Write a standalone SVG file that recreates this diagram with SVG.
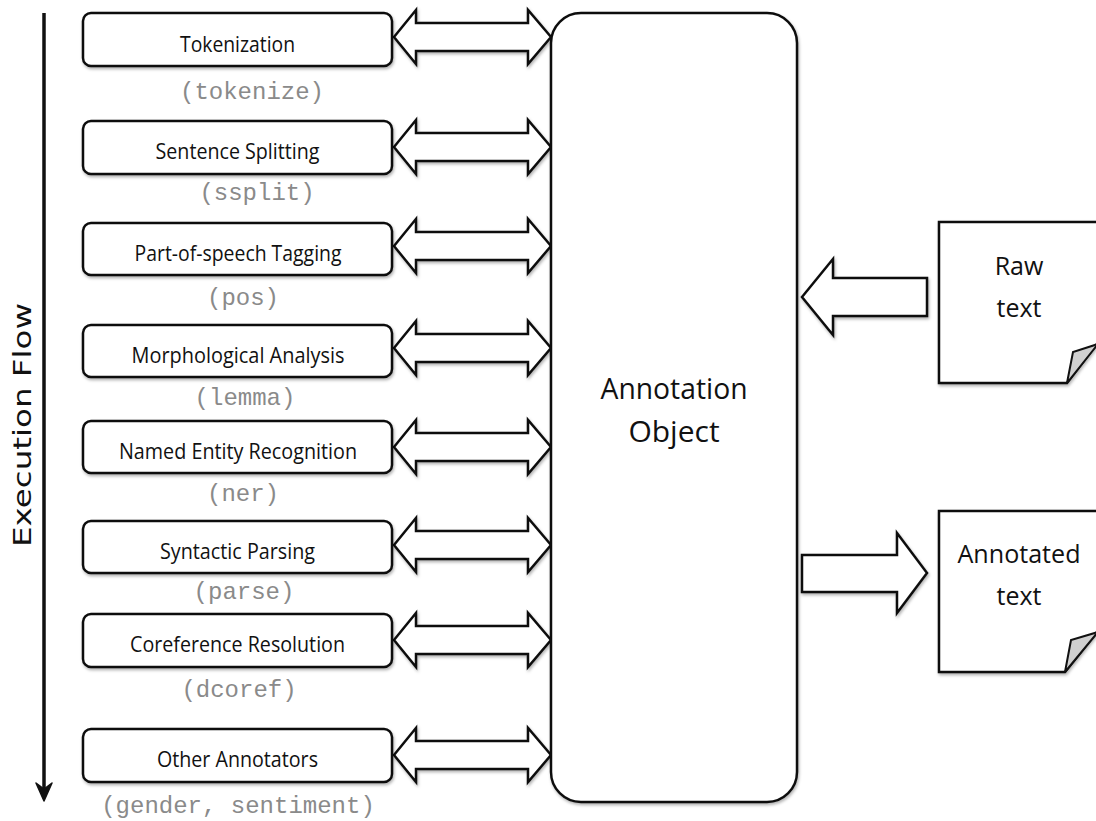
<svg xmlns="http://www.w3.org/2000/svg" width="1096" height="821" viewBox="0 0 1096 821">
  <defs>
    <filter id="shadow" x="-10%" y="-10%" width="130%" height="140%">
      <feDropShadow dx="1" dy="2" stdDeviation="1.5" flood-color="#000" flood-opacity="0.3"/>
    </filter>
    <style>
      .box { fill: #fff; stroke: #111; stroke-width: 2.5; filter: url(#shadow); }
      .shape { fill: #fff; stroke: #111; stroke-width: 2.5; stroke-linejoin: miter; filter: url(#shadow); }
      .curl { fill: #d0d0d0; stroke: #111; stroke-width: 2; stroke-linejoin: miter; }
      .name { font-family: "Open Sans", "Liberation Sans", sans-serif; font-size: 21px; fill: #111; text-anchor: middle; }
      .cmd { font-family: "Liberation Mono", "DejaVu Sans Mono", monospace; font-size: 24px; fill: #8a8a8a; text-anchor: middle; }
      .big { font-family: "Open Sans", "Liberation Sans", sans-serif; font-size: 30px; fill: #111; text-anchor: middle; }
      .doc { font-family: "Open Sans", "Liberation Sans", sans-serif; font-size: 25px; fill: #111; text-anchor: middle; }
    </style>
  </defs>
  <rect width="1096" height="821" fill="#fff"/>

  <!-- execution flow axis -->
  <g id="execution-flow">
    <line x1="44" y1="13" x2="44" y2="792" stroke="#111" stroke-width="3.5"/>
    <polygon points="36,783 44,801 52,783 44,789" fill="#111" stroke="#111" stroke-width="1.5" stroke-linejoin="round"/>
    <text transform="translate(31,425) rotate(-90)" font-family="'DejaVu Sans', 'Liberation Sans', sans-serif" font-size="24" fill="#111" text-anchor="middle" textLength="244" lengthAdjust="spacingAndGlyphs">Execution Flow</text>
  </g>

  <!-- connectors: annotators <-> annotation object, text in/out -->
  <g id="connectors">
    <polygon class="shape" points="394,37 416,10 416,23 528,23 528,10 551,37 528,64 528,51 416,51 416,64"/>
    <polygon class="shape" points="394,147 416,120 416,133 528,133 528,120 551,147 528,174 528,161 416,161 416,174"/>
    <polygon class="shape" points="394,246 416,219 416,232 528,232 528,219 551,246 528,273 528,260 416,260 416,273"/>
    <polygon class="shape" points="394,348 416,321 416,334 528,334 528,321 551,348 528,375 528,362 416,362 416,375"/>
    <polygon class="shape" points="394,447 416,420 416,433 528,433 528,420 551,447 528,474 528,461 416,461 416,474"/>
    <polygon class="shape" points="394,545 416,518 416,531 528,531 528,518 551,545 528,572 528,559 416,559 416,572"/>
    <polygon class="shape" points="394,640 416,613 416,626 528,626 528,613 551,640 528,667 528,654 416,654 416,667"/>
    <polygon class="shape" points="394,755 416,728 416,741 528,741 528,728 551,755 528,782 528,769 416,769 416,782"/>
    <polygon class="shape" points="802,297 833,259 833,278 927,278 927,316 833,316 833,335"/>
    <polygon class="shape" points="802,555 897,555 897,533 927,573 897,613 897,592 802,592"/>
  </g>

  <!-- annotators -->
  <g id="tokenize">
    <rect class="box" x="83" y="13" width="309" height="53" rx="8"/>
    <text class="name" x="237.5" y="52" textLength="115" lengthAdjust="spacingAndGlyphs">Tokenization</text>
    <text class="cmd" x="252" y="99">(tokenize)</text>
  </g>
  <g id="ssplit">
    <rect class="box" x="83" y="121" width="309" height="53" rx="8"/>
    <text class="name" x="237.5" y="159" textLength="164" lengthAdjust="spacingAndGlyphs">Sentence Splitting</text>
    <text class="cmd" x="257" y="200">(ssplit)</text>
  </g>
  <g id="pos">
    <rect class="box" x="83" y="223" width="309" height="52" rx="8"/>
    <text class="name" x="238" y="261" textLength="207" lengthAdjust="spacingAndGlyphs">Part-of-speech Tagging</text>
    <text class="cmd" x="243" y="305">(pos)</text>
  </g>
  <g id="lemma">
    <rect class="box" x="83" y="325" width="309" height="52" rx="8"/>
    <text class="name" x="238" y="363" textLength="213" lengthAdjust="spacingAndGlyphs">Morphological Analysis</text>
    <text class="cmd" x="245" y="405">(lemma)</text>
  </g>
  <g id="ner">
    <rect class="box" x="83" y="421" width="309" height="52" rx="8"/>
    <text class="name" x="238" y="459" textLength="238" lengthAdjust="spacingAndGlyphs">Named Entity Recognition</text>
    <text class="cmd" x="243" y="501">(ner)</text>
  </g>
  <g id="parse">
    <rect class="box" x="83" y="521" width="309" height="52" rx="8"/>
    <text class="name" x="237.5" y="559" textLength="155" lengthAdjust="spacingAndGlyphs">Syntactic Parsing</text>
    <text class="cmd" x="244" y="599">(parse)</text>
  </g>
  <g id="dcoref">
    <rect class="box" x="83" y="614" width="309" height="53" rx="8"/>
    <text class="name" x="237.5" y="652" textLength="215" lengthAdjust="spacingAndGlyphs">Coreference Resolution</text>
    <text class="cmd" x="239" y="697">(dcoref)</text>
  </g>
  <g id="other">
    <rect class="box" x="83" y="729" width="309" height="53" rx="8"/>
    <text class="name" x="237.5" y="767" textLength="161" lengthAdjust="spacingAndGlyphs">Other Annotators</text>
    <text class="cmd" x="238" y="813">(gender, sentiment)</text>
  </g>

  <!-- central annotation object -->
  <g id="annotation-object">
    <rect class="box" x="551" y="13" width="246" height="789" rx="30"/>
    <text class="big" x="674" y="399" textLength="147" lengthAdjust="spacingAndGlyphs">Annotation</text>
    <text class="big" x="674" y="442">Object</text>
  </g>

  <!-- input and output documents -->
  <g id="raw-text">
    <path class="shape" d="M939,222 H1100 V340 L1067,383 H939 Z"/>
    <polygon class="curl" points="1067,383 1073,352 1098,344"/>
    <text class="doc" x="1019" y="275">Raw</text>
    <text class="doc" x="1019" y="317">text</text>
  </g>
  <g id="annotated-text">
    <path class="shape" d="M939,511 H1100 V628 L1065,672 H939 Z"/>
    <polygon class="curl" points="1065,672 1071,640 1098,632"/>
    <text class="doc" x="1019" y="563" textLength="123" lengthAdjust="spacingAndGlyphs">Annotated</text>
    <text class="doc" x="1019" y="605">text</text>
  </g>
</svg>
